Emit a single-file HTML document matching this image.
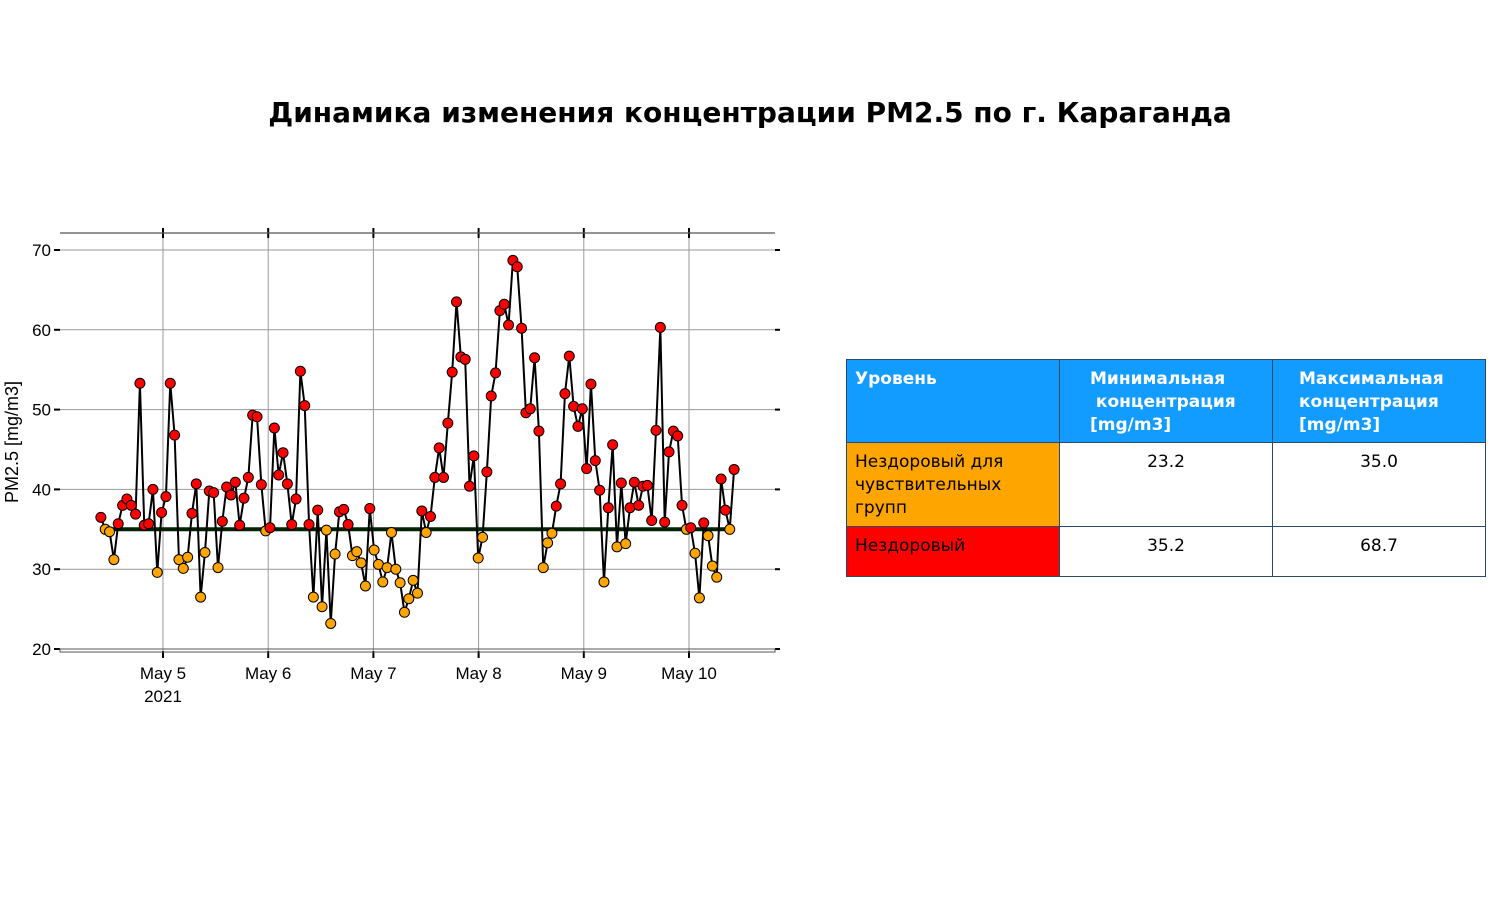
<!DOCTYPE html>
<html><head><meta charset="utf-8"><style>
body{margin:0;background:#fff;font-family:"Liberation Sans","DejaVu Sans",sans-serif;}
#wrap{position:relative;width:1500px;height:900px;overflow:hidden}
table{position:absolute;left:846px;top:359px;border-collapse:collapse;font-family:"DejaVu Sans","Liberation Sans",sans-serif;font-size:17px}
td,th{border:1px solid #2a4a6a;width:213px;vertical-align:top;padding:8px 8px 0 8px;box-sizing:border-box;line-height:23px}
th{background:#139cff;color:#fff;text-align:left;height:83px;font-weight:bold}
td{height:84px;text-align:center;color:#000}
td.l{text-align:left}
</style></head><body><div id="wrap">
<svg id="svg" width="1500" height="900" style="position:absolute;left:0;top:0">
<text x="750" y="122" text-anchor="middle" font-size="28" font-weight="bold" font-family="DejaVu Sans, Liberation Sans, sans-serif">Динамика изменения концентрации PM2.5 по г. Караганда</text>
<text transform="translate(18,442) rotate(-90)" text-anchor="middle" font-size="18">PM2.5 [mg/m3]</text>
<g id="grid"></g><g id="marks"></g>
</svg>
<table>
<tr><th>Уровень</th><th style="padding-left:30px">Минимальная<br>&nbsp;концентрация<br>[mg/m3]</th><th style="padding-left:26px">Максимальная<br>концентрация<br>[mg/m3]</th></tr>
<tr><td class="l" style="background:#ffa500">Нездоровый для чувствительных групп</td><td>23.2</td><td>35.0</td></tr>
<tr><td class="l" style="background:#ff0000;height:50px">Нездоровый</td><td style="height:50px">35.2</td><td style="height:50px">68.7</td></tr>
</table>
</div>
<script>
const values=[36.5,35.0,34.7,31.2,35.7,38.0,38.8,38.0,36.9,53.3,35.5,35.7,40.0,29.6,37.1,39.1,53.3,46.8,31.2,30.1,31.5,37.0,40.7,26.5,32.1,39.8,39.6,30.2,36.0,40.3,39.3,40.9,35.5,38.9,41.5,49.3,49.1,40.6,34.8,35.2,47.7,41.8,44.6,40.7,35.6,38.8,54.8,50.5,35.6,26.5,37.4,25.3,34.9,23.2,31.9,37.2,37.5,35.6,31.7,32.2,30.8,27.9,37.6,32.4,30.6,28.4,30.2,34.6,30.0,28.3,24.6,26.3,28.6,27.0,37.3,34.6,36.6,41.5,45.2,41.5,48.3,54.7,63.5,56.6,56.3,40.4,44.2,31.4,34.0,42.2,51.7,54.6,62.4,63.2,60.6,68.7,67.9,60.2,49.6,50.1,56.5,47.3,30.2,33.3,34.5,37.9,40.7,52.0,56.7,50.4,47.9,50.1,42.6,53.2,43.6,39.9,28.4,37.7,45.6,32.8,40.8,33.2,37.7,40.9,38.0,40.4,40.5,36.1,47.4,60.3,35.9,44.7,47.3,46.7,38.0,35.0,35.2,32.0,26.4,35.8,34.2,30.4,29.0,41.3,37.4,35.0,42.5];
const threshold=35.0;
const yTicks=[20,30,40,50,60,70];
const dayLabels=["May 5","May 6","May 7","May 8","May 9","May 10"];
const startDay=-0.5905, endDay=5.4286; // days relative to May 5
const NS="http://www.w3.org/2000/svg";
const X=d=>163+d*105.2, Y=v=>649-(v-20)*7.98;
const tAt=i=>startDay+(endDay-startDay)*i/(values.length-1);
function mk(p,t,a){const e=document.createElementNS(NS,t);for(const k in a)e.setAttribute(k,a[k]);p.appendChild(e);return e;}
const g=document.getElementById('grid'),m=document.getElementById('marks');
const L=60,R=775,T=233,B=651;
yTicks.forEach(v=>{
 if(v>20){const l=mk(g,'line',{x1:L,x2:R,y1:Y(v),y2:Y(v),stroke:'#999','stroke-width':1});
 }
 const tl=mk(g,'line',{x1:54,x2:60,y1:Y(v),y2:Y(v),stroke:'#000','stroke-width':2});
 
 const tr=mk(g,'line',{x1:775,x2:780,y1:Y(v),y2:Y(v),stroke:'#000','stroke-width':2});
 
 const t=mk(g,'text',{x:51,y:Y(v)+6,'text-anchor':'end','font-size':17});t.textContent=v;
 
});
dayLabels.forEach((s,i)=>{
 const x=X(i);
 const l=mk(g,'line',{x1:x,x2:x,y1:T,y2:B,stroke:'#999','stroke-width':1});
 
 const tk=mk(g,'line',{x1:x,x2:x,y1:228,y2:238,stroke:'#000','stroke-width':2});
 
 const tb=mk(g,'line',{x1:x,x2:x,y1:651,y2:658,stroke:'#000','stroke-width':2});
 
 const t=mk(g,'text',{x:x,y:679,'text-anchor':'middle','font-size':17});t.textContent=s;
 
});
const yr=mk(g,'text',{x:X(0),y:702,'text-anchor':'middle','font-size':17});yr.textContent='2021';

const ft=mk(g,'line',{x1:L,x2:R,y1:T,y2:T,stroke:'#555','stroke-width':1.3});

const fb=mk(g,'rect',{x:L,y:649,width:R-L,height:3,fill:'none',stroke:'#555','stroke-width':1});

const th=mk(m,'line',{x1:X(tAt(0)),x2:X(tAt(values.length-1)),y1:Y(threshold),y2:Y(threshold),stroke:'#002200','stroke-width':4});

const pl=mk(m,'polyline',{points:values.map((v,i)=>X(tAt(i))+','+Y(v)).join(' '),fill:'none',stroke:'#000','stroke-width':2});

values.forEach((v,i)=>{
 const c=mk(m,'circle',{cx:X(tAt(i)),cy:Y(v),r:5,fill:v<=threshold?'#ffa500':'#ff0000',stroke:'#000','stroke-width':1});
 
 
});
</script></body></html>
